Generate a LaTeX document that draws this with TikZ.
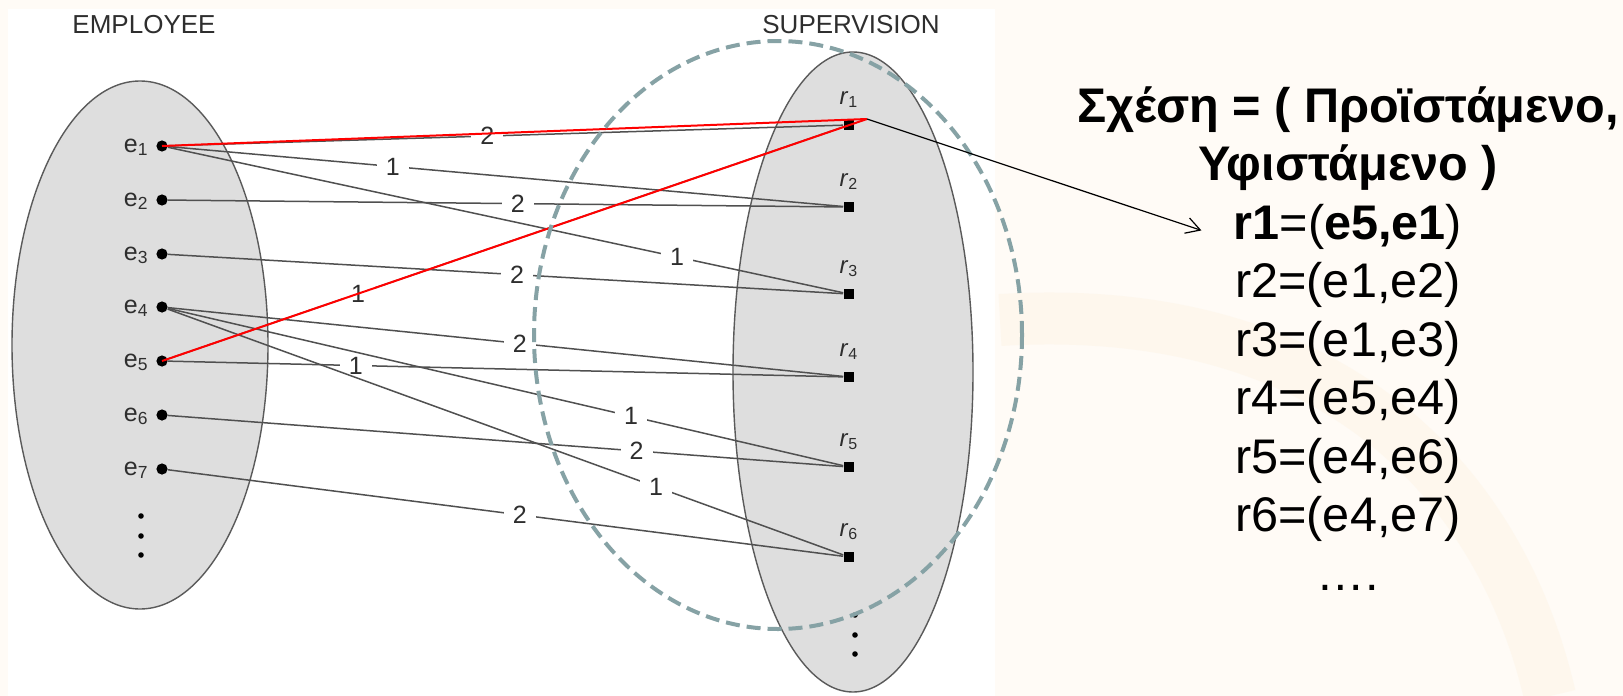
\documentclass[tikz,border=0pt]{standalone}
\usepackage{fontspec}
\setmainfont{Liberation Sans}
\usetikzlibrary{arrows.meta}
\definecolor{cream}{HTML}{FFFBF6}
\definecolor{swoosh}{HTML}{FDF1DE}
\definecolor{ellfill}{HTML}{DEDEDE}
\definecolor{ellline}{HTML}{5A5A5A}
\definecolor{linegray}{HTML}{505050}
\definecolor{dashteal}{HTML}{86A2A5}
\definecolor{labgray}{HTML}{2E2E2E}
\begin{document}
\begin{tikzpicture}[x=0.5pt,y=-0.5pt,
  set/.style={fill=ellfill,draw=ellline,line width=0.7pt},
  edot/.style={circle,fill=black,inner sep=0pt,minimum size=5.6pt},
  rsq/.style={rectangle,fill=black,inner sep=0pt,minimum size=5.4pt},
  elab/.style={text=labgray,font=\fontsize{12.5}{14}\selectfont,anchor=base east,inner sep=0pt},
  rlab/.style={text=labgray,font=\fontsize{12}{14}\selectfont,anchor=base,inner sep=0pt},
  conn/.style={draw=linegray,line width=0.75pt},
  num/.style={fill=white,text=labgray,inner xsep=4.5pt,inner ysep=0.5pt,font=\fontsize{12.5}{14}\selectfont},
  hl/.style={draw=red,line width=1pt},
  settitle/.style={font=\fontsize{13}{15}\selectfont,text=labgray},
  rel/.style={font=\fontsize{24.3}{28}\selectfont,anchor=base,inner sep=0pt},
  dashell/.style={draw=dashteal,line width=2pt,dash pattern=on 7pt off 3.5pt},
  pointer/.style={draw=black,line width=0.6pt,-{Straight Barb[length=7pt,width=8pt]}},
]
\useasboundingbox (0,0) rectangle (1623,696);
\fill[cream] (0,0) rectangle (1623,696);
\draw[swoosh,line width=26pt,opacity=0.35] (1000,320) .. controls (1330,300) and (1500,480) .. (1550,696);
\fill[white] (8,9) rectangle (995,696);

% sets
\draw[set] (140,345) ellipse [x radius=128, y radius=264];
\draw[set] (853,372) ellipse [x radius=120, y radius=320];
\node[settitle] (emp) at (144,25) {EMPLOYEE};
\node[settitle] (sup) at (851,25) {SUPERVISION};

% employees
\foreach \i/\y in {1/146,2/200,3/254,4/307,5/361,6/415,7/469}{
  \node[edot] (e\i) at (162,\y) {};
  \node[elab] (le\i) at (149,\y+6) {e\textsubscript{\i}};
}
\foreach \y in {516,536,555}{
  \fill (141,\y) circle [radius=2.8];
}

% relationship instances
\foreach \i/\y in {1/125,2/207,3/294,4/377,5/467,6/557}{
  \node[rsq] (r\i) at (849,\y) {};
  \node[rlab] (lr\i) at (849,\y-21) {\textit{r}\textsubscript{\i}};
}
\foreach \y in {615,635,654}{
  \fill (855,\y) circle [radius=2.8];
}

% connectors
\draw[conn] (e1) -- node[num,pos=0.473] {2} (r1);
\draw[conn] (e5) -- node[num,pos=0.282] {1} (r1);
\draw[conn] (e1) -- node[num,pos=0.333] {1} (r2);
\draw[conn] (e2) -- node[num,pos=0.518] {2} (r2);
\draw[conn] (e1) -- node[num,pos=0.754] {1} (r3);
\draw[conn] (e3) -- node[num,pos=0.517] {2} (r3);
\draw[conn] (e4) -- node[num,pos=0.521] {2} (r4);
\draw[conn] (e5) -- node[num,pos=0.278] {1} (r4);
\draw[conn] (e4) -- node[num,pos=0.686] {1} (r5);
\draw[conn] (e6) -- node[num,pos=0.694] {2} (r5);
\draw[conn] (e4) -- node[num,pos=0.723] {1} (r6);
\draw[conn] (e7) -- node[num,pos=0.521] {2} (r6);

% highlight
\coordinate (P) at (867,119);
\draw[hl] (e1.center) -- (P);
\draw[hl] (e5.center) -- (P);

% dashed grouping ellipse
\draw[dashell] (778,335) ellipse [x radius=244, y radius=294];

% relation text
\node[rel] (t1) at (1348,122) {\textbf{Σχέση = ( Προϊστάμενο,}};
\node[rel] (t2) at (1348,180.5) {\textbf{Υφιστάμενο )}};
\node[rel] (t3) at (1348,239) {\textbf{r1}=(\textbf{e5,e1})};
\node[rel] (t4) at (1348,297.5) {r2=(e1,e2)};
\node[rel] (t5) at (1348,356) {r3=(e1,e3)};
\node[rel] (t6) at (1348,414.5) {r4=(e5,e4)};
\node[rel] (t7) at (1348,473) {r5=(e4,e6)};
\node[rel] (t8) at (1348,531.5) {r6=(e4,e7)};
\node[rel] (t9) at (1348,590) {….};

\draw[pointer] (P) -- ([xshift=-16pt,yshift=-2pt]t3.west);
\end{tikzpicture}
\end{document}
